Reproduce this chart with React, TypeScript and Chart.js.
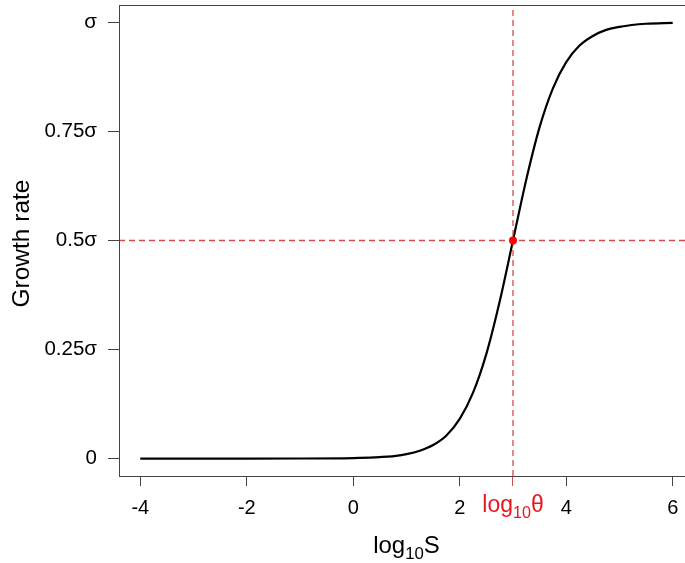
import React, { useEffect, useRef } from 'react';
import { Chart, registerables } from 'chart.js';

Chart.register(...registerables);

// ---- data ----
const logS = [-4, -3, -2, -1, 0, 0.4, 0.8, 1, 1.25, 1.5, 1.75, 2, 2.25, 2.5, 2.75, 3, 3.25, 3.5, 3.75, 4, 4.25, 4.5, 4.75, 5, 5.5, 6];
const growth = [0, 0, 0, 0.0001, 0.001, 0.0025, 0.006, 0.01, 0.018, 0.031, 0.053, 0.091, 0.151, 0.24, 0.36, 0.5, 0.64, 0.76, 0.849, 0.909, 0.947, 0.969, 0.983, 0.99, 0.997, 0.999];

const xTickValues = [-4, -2, 0, 2, 4, 6];
const yTickValues = [0, 0.25, 0.5, 0.75, 1];
const yTickLabels = ['0', '0.25σ', '0.5σ', '0.75σ', 'σ'];

const logTheta = 3;
const halfRate = 0.5;
const xRange = [-4.4, 6.4];
const yRange = [-0.04, 1.04];

const xTitle = ['log', '10', 'S'];
const thetaLabel = ['log', '10', 'θ'];
const yTitle = 'Growth rate';

// ---- styles ----
const FONT = '"Liberation Sans", Arial, Helvetica, sans-serif';
const AXIS = '#444444';
const RED = '#ff0000';
const RED_TEXT = '#e8161e';
const DASH_RED = 'rgba(205,45,45,0.85)';

function drawSubText(ctx: CanvasRenderingContext2D, parts: string[], cx: number, baseline: number, size: number, color: string) {
  const mainFont = `${size}px ${FONT}`;
  const subSize = size * 0.7;
  const subFont = `${subSize}px ${FONT}`;
  ctx.save();
  ctx.fillStyle = color;
  ctx.textBaseline = 'alphabetic';
  ctx.textAlign = 'left';
  const widths = parts.map((p, i) => {
    ctx.font = i === 1 ? subFont : mainFont;
    return ctx.measureText(p).width;
  });
  const total = widths.reduce((a, b) => a + b, 0);
  let x = cx - total / 2;
  parts.forEach((p, i) => {
    ctx.font = i === 1 ? subFont : mainFont;
    ctx.fillText(p, x, i === 1 ? baseline + size * 0.25 : baseline);
    x += widths[i];
  });
  ctx.restore();
}

const overlay = {
  id: 'overlay',
  afterDraw(chart: any) {
    const { ctx, chartArea: a, scales } = chart;
    ctx.save();
    ctx.strokeStyle = AXIS;
    ctx.lineWidth = 1;
    ctx.strokeRect(Math.round(a.left) + 0.5, Math.round(a.top) + 0.5, Math.round(a.right - a.left), Math.round(a.bottom - a.top));
    ctx.restore();

    const px = scales.x.getPixelForValue(logTheta);
    drawSubText(ctx, thetaLabel, px, a.bottom + 36, 23, RED_TEXT);
    drawSubText(ctx, xTitle, (a.left + a.right) / 2, a.bottom + 76.5, 24, '#000');

    ctx.save();
    ctx.translate(28.5, (a.top + a.bottom) / 2 + 3);
    ctx.rotate(-Math.PI / 2);
    ctx.font = `24.5px ${FONT}`;
    ctx.fillStyle = '#000';
    ctx.textAlign = 'center';
    ctx.textBaseline = 'alphabetic';
    ctx.fillText(yTitle, 0, 0);
    ctx.restore();
  },
};

export default function App() {
  const ref = useRef<HTMLCanvasElement>(null);

  useEffect(() => {
    if (!ref.current) return;
    const curve = logS.map((x, i) => ({ x, y: growth[i] }));
    const chart = new Chart(ref.current, {
      type: 'line',
      data: {
        datasets: [
          {
            data: [{ x: logTheta, y: halfRate }],
            showLine: false,
            pointRadius: 4,
            pointHoverRadius: 4,
            pointBackgroundColor: RED,
            pointBorderColor: RED,
            pointBorderWidth: 0,
            order: 0,
          },
          {
            data: [{ x: logTheta, y: yRange[0] }, { x: logTheta, y: yRange[1] }],
            borderColor: DASH_RED,
            borderWidth: 1.3,
            borderDash: [6, 4],
            pointRadius: 0,
            order: 1,
          },
          {
            data: [{ x: xRange[0], y: halfRate }, { x: xRange[1], y: halfRate }],
            borderColor: DASH_RED,
            borderWidth: 1.3,
            borderDash: [6, 4],
            pointRadius: 0,
            order: 1,
          },
          {
            data: curve,
            borderColor: '#000000',
            borderWidth: 2.2,
            pointRadius: 0,
            cubicInterpolationMode: 'monotone',
            order: 2,
          },
        ] as any,
      },
      options: {
        responsive: false,
        animation: false,
        events: [],
        layout: { autoPadding: false, padding: { top: 5, right: 6, left: 0, bottom: 0 } },
        plugins: { legend: { display: false }, tooltip: { enabled: false } },
        scales: {
          x: {
            type: 'linear',
            min: xRange[0],
            max: xRange[1],
            afterBuildTicks: (s: any) => {
              s.ticks = [...xTickValues, logTheta].sort((a, b) => a - b).map((v) => ({ value: v }));
            },
            afterFit: (s: any) => {
              s.height = 87;
              s.paddingLeft = 0;
              s.paddingRight = 0;
              s.paddingTop = 0;
              s.paddingBottom = 0;
            },
            ticks: {
              autoSkip: false,
              maxRotation: 0,
              padding: 10,
              color: '#000',
              font: { family: FONT, size: 20 },
              callback: (v: any) => (v === logTheta ? '' : String(v)),
            },
            grid: {
              drawOnChartArea: false,
              drawTicks: true,
              tickLength: 10,
              lineWidth: 1,
              color: (c: any) => (c.tick && c.tick.value === logTheta ? DASH_RED : AXIS),
            },
            border: { display: false },
          },
          y: {
            type: 'linear',
            min: yRange[0],
            max: yRange[1],
            afterBuildTicks: (s: any) => {
              s.ticks = yTickValues.map((v) => ({ value: v }));
            },
            afterFit: (s: any) => {
              s.width = 119;
              s.paddingLeft = 0;
              s.paddingRight = 0;
              s.paddingTop = 0;
              s.paddingBottom = 0;
            },
            ticks: {
              autoSkip: false,
              padding: 11,
              color: '#000',
              font: { family: FONT, size: 20.5 },
              callback: (v: any) => {
                const i = yTickValues.indexOf(v);
                return i >= 0 ? yTickLabels[i] : '';
              },
            },
            grid: {
              drawOnChartArea: false,
              drawTicks: true,
              tickLength: 11,
              lineWidth: 1,
              color: AXIS,
            },
            border: { display: false },
          },
        },
      } as any,
      plugins: [overlay],
    });
    return () => chart.destroy();
  }, []);

  return (
    <div style={{ position: 'fixed', left: 0, top: 0, width: 685, height: 563, overflow: 'hidden', background: '#fff' }}>
      <canvas ref={ref} width={700} height={563} style={{ display: 'block', width: 700, height: 563 }} />
    </div>
  );
}
